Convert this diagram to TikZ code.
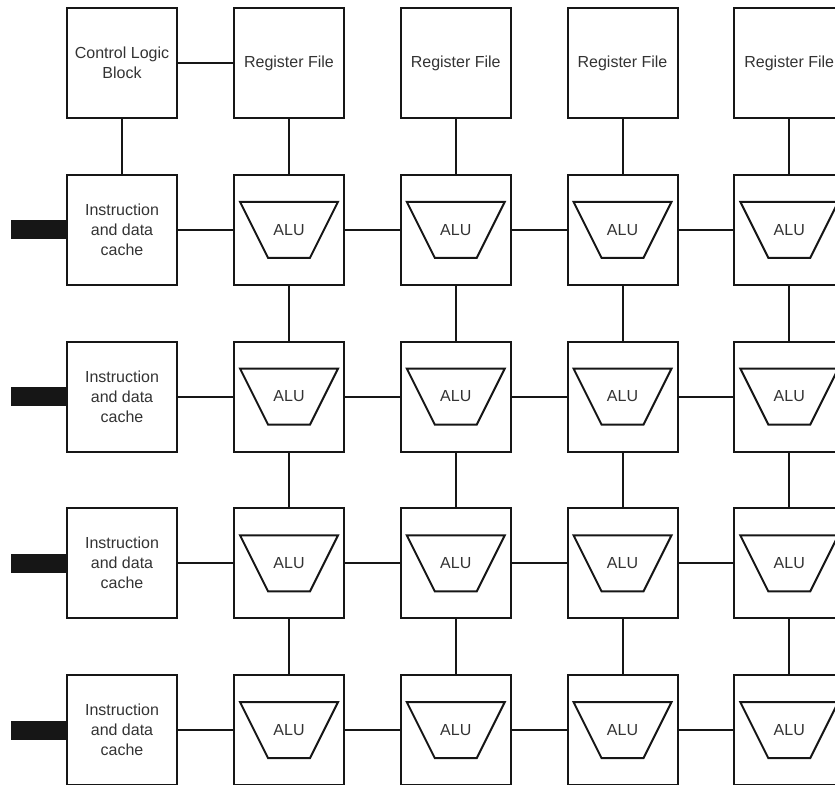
\documentclass[tikz,border=0pt]{standalone}
\usepackage{fontspec}
\setmainfont{Liberation Sans}
\usepackage{tikz}
\usetikzlibrary{calc,positioning}
\definecolor{Ink}{HTML}{161616}
\definecolor{LabelGray}{HTML}{333333}
\tikzset{
  unitbox/.style={draw=Ink,line width=1.5pt,minimum width=82.5pt,minimum height=82.5pt,inner sep=2pt,align=center,font=\fontsize{12}{15}\selectfont,text=LabelGray},
  alushape/.style={draw=Ink,line width=1.5pt,line join=miter},
  alulabel/.style={inner sep=0pt,font=\fontsize{12}{15}\selectfont,text=LabelGray},
  wire/.style={Ink,line width=1.5pt},
  portbar/.style={fill=Ink,minimum width=41pt,minimum height=14.25pt,inner sep=0pt,outer sep=0pt}
}

\begin{document}
\begin{tikzpicture}[x=0.75pt,y=-0.75pt]
  \clip (0,0) rectangle (835,785);

  % top row: control logic and register files
  \node[unitbox] (ctrl) at (122,63) {Control Logic\\Block};
  \node[unitbox] (rf1) at (289,63) {Register File};
  \node[unitbox] (rf2) at (455.75,63) {Register File};
  \node[unitbox] (rf3) at (622.5,63) {Register File};
  \node[unitbox] (rf4) at (789.25,63) {Register File};

  % caches with their ports
  \node[unitbox] (ic1) at (122,229.75) {Instruction\\and data\\cache};
  \node[unitbox] (ic2) at (122,396.5) {Instruction\\and data\\cache};
  \node[unitbox] (ic3) at (122,563.25) {Instruction\\and data\\cache};
  \node[unitbox] (ic4) at (122,730) {Instruction\\and data\\cache};
  \node[portbar,left=0pt of ic1] (port1) {};
  \node[portbar,left=0pt of ic2] (port2) {};
  \node[portbar,left=0pt of ic3] (port3) {};
  \node[portbar,left=0pt of ic4] (port4) {};

  % ALU grid
  \node[unitbox] (alu11) at (289,229.75) {};
  \node[unitbox] (alu12) at (455.75,229.75) {};
  \node[unitbox] (alu13) at (622.5,229.75) {};
  \node[unitbox] (alu14) at (789.25,229.75) {};
  \node[unitbox] (alu21) at (289,396.5) {};
  \node[unitbox] (alu22) at (455.75,396.5) {};
  \node[unitbox] (alu23) at (622.5,396.5) {};
  \node[unitbox] (alu24) at (789.25,396.5) {};
  \node[unitbox] (alu31) at (289,563.25) {};
  \node[unitbox] (alu32) at (455.75,563.25) {};
  \node[unitbox] (alu33) at (622.5,563.25) {};
  \node[unitbox] (alu34) at (789.25,563.25) {};
  \node[unitbox] (alu41) at (289,730) {};
  \node[unitbox] (alu42) at (455.75,730) {};
  \node[unitbox] (alu43) at (622.5,730) {};
  \node[unitbox] (alu44) at (789.25,730) {};
  \foreach \r in {1,...,4}
    \foreach \c in {1,...,4} {
      \draw[alushape] ($(alu\r\c)+(-49,-28)$) -- ($(alu\r\c)+(49,-28)$) -- ($(alu\r\c)+(21,28)$) -- ($(alu\r\c)+(-21,28)$) -- cycle;
      \node[alulabel] (lbl\r\c) at (alu\r\c) {ALU};
    }

  % links
  \draw[wire] (ctrl) -- (rf1);
  \draw[wire] (ctrl) -- (ic1);
  \draw[wire] (rf1) -- (alu11);
  \draw[wire] (rf2) -- (alu12);
  \draw[wire] (rf3) -- (alu13);
  \draw[wire] (rf4) -- (alu14);
  \foreach \r in {1,...,4} {
    \draw[wire] (ic\r) -- (alu\r1);
    \draw[wire] (alu\r1) -- (alu\r2);
    \draw[wire] (alu\r2) -- (alu\r3);
    \draw[wire] (alu\r3) -- (alu\r4);
  }
  \foreach \c in {1,...,4} {
    \draw[wire] (alu1\c) -- (alu2\c);
    \draw[wire] (alu2\c) -- (alu3\c);
    \draw[wire] (alu3\c) -- (alu4\c);
  }
\end{tikzpicture}
\end{document}
